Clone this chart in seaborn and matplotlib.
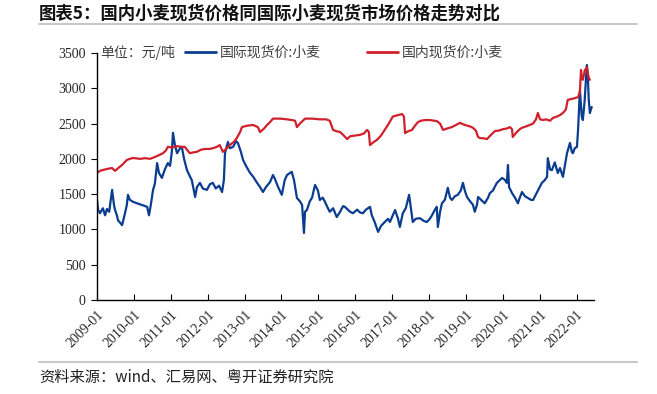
import seaborn as sns
import matplotlib.pyplot as plt
import matplotlib.lines as mlines
import pandas as pd

# 国际现货价:小麦 (元/吨), x in decimal years
intl_year = [2009.00, 2009.03, 2009.08, 2009.16, 2009.22, 2009.27, 2009.33, 2009.41, 2009.46, 2009.49,
             2009.54, 2009.57, 2009.62, 2009.68, 2009.70, 2009.76, 2009.81, 2009.84, 2009.89, 2009.98,
             2010.36, 2010.41, 2010.46, 2010.52, 2010.57, 2010.63, 2010.68, 2010.76, 2010.84, 2010.92,
             2010.98, 2011.03, 2011.06, 2011.11, 2011.17, 2011.25, 2011.30, 2011.36, 2011.44, 2011.52,
             2011.57, 2011.66, 2011.71, 2011.79, 2011.87, 2011.98, 2012.06, 2012.14, 2012.22, 2012.31,
             2012.39, 2012.44, 2012.47, 2012.55, 2012.60, 2012.69, 2012.77, 2012.82, 2012.90, 2012.96,
             2013.04, 2013.15, 2013.23, 2013.34, 2013.42, 2013.50, 2013.58, 2013.69, 2013.77, 2013.82,
             2013.91, 2014.01, 2014.09, 2014.15, 2014.23, 2014.28, 2014.34, 2014.42, 2014.50, 2014.56,
             2014.61, 2014.64, 2014.69, 2014.77, 2014.83, 2014.91, 2014.99, 2015.04, 2015.12, 2015.18,
             2015.26, 2015.31, 2015.40, 2015.50, 2015.59, 2015.67, 2015.72, 2015.80, 2015.86, 2015.94,
             2016.05, 2016.13, 2016.21, 2016.29, 2016.40, 2016.45, 2016.53, 2016.62, 2016.70, 2016.80,
             2016.89, 2016.94, 2017.02, 2017.08, 2017.16, 2017.21, 2017.29, 2017.37, 2017.46, 2017.51,
             2017.56, 2017.64, 2017.75, 2017.86, 2017.94, 2018.02, 2018.08, 2018.16, 2018.21, 2018.24,
             2018.30, 2018.35, 2018.43, 2018.51, 2018.57, 2018.62, 2018.70, 2018.78, 2018.86, 2018.92,
             2018.97, 2019.03, 2019.11, 2019.19, 2019.24, 2019.30, 2019.33, 2019.41, 2019.51, 2019.60,
             2019.65, 2019.73, 2019.84, 2019.92, 2019.98, 2020.06, 2020.11, 2020.14, 2020.17, 2020.25,
             2020.33, 2020.41, 2020.46, 2020.52, 2020.60, 2020.68, 2020.76, 2020.82, 2021.06, 2021.14,
             2021.20, 2021.22, 2021.28, 2021.33, 2021.41, 2021.49, 2021.55, 2021.63, 2021.68, 2021.74,
             2021.82, 2021.87, 2021.90, 2021.95, 2022.01, 2022.04, 2022.09, 2022.14, 2022.17, 2022.22,
             2022.25, 2022.28, 2022.31, 2022.33, 2022.36, 2022.39, 2022.41]
intl_price = [1420, 1280, 1230, 1300, 1200, 1290, 1250, 1560, 1350, 1275,
              1200, 1130, 1100, 1060, 1100, 1230, 1350, 1490, 1420, 1390,
              1320, 1200, 1350, 1560, 1650, 1940, 1800, 1730, 1850, 1940,
              1900, 2100, 2370, 2200, 2080, 2150, 2170, 2000, 1840, 1750,
              1700, 1460, 1600, 1660, 1580, 1560, 1640, 1660, 1580, 1620,
              1530, 1700, 2080, 2240, 2150, 2170, 2250, 2225, 2100, 1985,
              1900, 1800, 1750, 1660, 1600, 1530, 1600, 1670, 1770, 1720,
              1600, 1490, 1700, 1770, 1800, 1815, 1700, 1445, 1400, 1345,
              950, 1250, 1275, 1400, 1450, 1630, 1550, 1417, 1450, 1390,
              1300, 1250, 1300, 1175, 1250, 1330, 1320, 1280, 1250, 1230,
              1280, 1240, 1230, 1280, 1320, 1200, 1100, 965, 1050, 1105,
              1150, 1105, 1200, 1275, 1150, 1035, 1230, 1300, 1490, 1300,
              1105, 1150, 1160, 1120, 1105, 1150, 1200, 1280, 1320, 1035,
              1250, 1370, 1420, 1590, 1450, 1417, 1470, 1490, 1550, 1660,
              1550, 1460, 1400, 1350, 1250, 1350, 1460, 1420, 1370, 1450,
              1515, 1550, 1660, 1700, 1730, 1700, 1660, 1913, 1600, 1515,
              1450, 1370, 1450, 1530, 1470, 1445, 1420, 1417, 1660, 1700,
              1745, 2010, 1850, 1840, 1950, 1800, 1870, 1745, 1900, 2080,
              2225, 2100, 2080, 2150, 2170, 2410, 2975, 2600, 2550, 2835,
              3100, 3330, 3100, 2835, 2650, 2700, 2735]

# 国内现货价:小麦 (元/吨)
dom_year = [2009.00, 2009.08, 2009.16, 2009.30, 2009.41, 2009.49, 2009.60, 2009.68, 2009.81, 2009.89,
            2009.98, 2010.17, 2010.30, 2010.44, 2010.54, 2010.63, 2010.71, 2010.79, 2010.87, 2010.92,
            2011.03, 2011.17, 2011.30, 2011.38, 2011.47, 2011.52, 2011.60, 2011.71, 2011.82, 2011.93,
            2012.04, 2012.14, 2012.25, 2012.33, 2012.41, 2012.50, 2012.60, 2012.71, 2012.79, 2012.88,
            2012.93, 2013.07, 2013.23, 2013.36, 2013.42, 2013.53, 2013.61, 2013.69, 2013.77, 2013.96,
            2014.15, 2014.28, 2014.37, 2014.42, 2014.50, 2014.64, 2014.83, 2015.04, 2015.21, 2015.31,
            2015.40, 2015.50, 2015.59, 2015.69, 2015.78, 2015.86, 2015.99, 2016.13, 2016.24, 2016.32,
            2016.37, 2016.40, 2016.48, 2016.59, 2016.70, 2016.80, 2016.91, 2017.02, 2017.16, 2017.27,
            2017.32, 2017.35, 2017.43, 2017.54, 2017.62, 2017.70, 2017.78, 2017.89, 2018.02, 2018.21,
            2018.30, 2018.38, 2018.49, 2018.62, 2018.73, 2018.84, 2018.97, 2019.11, 2019.19, 2019.27,
            2019.33, 2019.38, 2019.49, 2019.57, 2019.68, 2019.79, 2019.89, 2020.00, 2020.11, 2020.19,
            2020.25, 2020.27, 2020.38, 2020.46, 2020.52, 2020.63, 2020.73, 2020.82, 2020.90, 2020.95,
            2021.01, 2021.09, 2021.17, 2021.28, 2021.36, 2021.47, 2021.55, 2021.63, 2021.71, 2021.76,
            2021.87, 2021.95, 2022.04, 2022.09, 2022.12, 2022.14, 2022.17, 2022.22, 2022.28, 2022.31,
            2022.33, 2022.36]
dom_price = [1800, 1830, 1842, 1860, 1870, 1830, 1880, 1913, 1984, 2000,
             2012, 2000, 2010, 2000, 2020, 2040, 2060, 2080, 2120, 2170,
             2160, 2180, 2170, 2170, 2110, 2080, 2090, 2100, 2130, 2140,
             2140, 2150, 2170, 2195, 2100, 2140, 2195, 2240, 2295, 2380,
             2450, 2470, 2480, 2450, 2380, 2430, 2480, 2520, 2570, 2570,
             2560, 2550, 2540, 2450, 2500, 2570, 2570, 2560, 2560, 2540,
             2410, 2390, 2380, 2330, 2280, 2320, 2330, 2340, 2360, 2410,
             2380, 2195, 2230, 2270, 2330, 2410, 2500, 2600, 2620, 2635,
             2600, 2365, 2390, 2410, 2470, 2520, 2540, 2550, 2550, 2535,
             2500, 2410, 2430, 2450, 2480, 2510, 2480, 2460, 2440, 2400,
             2310, 2295, 2290, 2280, 2340, 2395, 2400, 2420, 2430, 2450,
             2420, 2310, 2380, 2420, 2440, 2460, 2480, 2500, 2560, 2650,
             2560, 2550, 2560, 2540, 2580, 2600, 2620, 2650, 2700, 2835,
             2850, 2860, 2875, 2950, 3260, 3150, 3120, 3250, 3300, 3200,
             3150, 3120]

tick_years = list(range(2009, 2023))
tick_labels = [f'{y}-01' for y in tick_years]

df_intl = pd.DataFrame({'year': intl_year, 'price': intl_price})
df_dom = pd.DataFrame({'year': dom_year, 'price': dom_price})

sns.set_style('white')
plt.rcParams['font.family'] = ['Liberation Serif', 'Noto Sans CJK SC', 'DejaVu Sans']

blue = '#0A3D8F'
red = '#D0202C'

fig = plt.figure(figsize=(6.57, 3.94), dpi=100)
ax = fig.add_axes([0.1476, 0.2386, 0.7564, 0.6269])

sns.lineplot(data=df_intl, x='year', y='price', color=blue, linewidth=1.6, ax=ax)
sns.lineplot(data=df_dom, x='year', y='price', color=red, linewidth=1.6, ax=ax)

ax.set_xlim(2009.0, 2022.47)
ax.set_ylim(0, 3500)
ax.set_yticks(range(0, 3501, 500))
ax.set_xticks(tick_years)
ax.set_xticklabels(tick_labels, rotation=45, ha='right', rotation_mode='anchor')
ax.set_xlabel('')
ax.set_ylabel('')

for s in ['top', 'right']:
    ax.spines[s].set_visible(False)
for s in ['left', 'bottom']:
    ax.spines[s].set_color('black')
    ax.spines[s].set_linewidth(1.0)
ax.tick_params(axis='x', direction='in', length=4, width=0.8, color='black', labelsize=10, pad=6)
ax.tick_params(axis='y', direction='out', length=4, width=0.8, color='black', labelsize=10, pad=4, left=True)
ax.tick_params(axis='x', bottom=True)

ax.text(0.006, 1.0, '单位：元/吨', transform=ax.transAxes, fontsize=10, color='#404040',
        va='center', ha='left', family=['Noto Sans CJK SC'])

handles = [mlines.Line2D([], [], color=blue, linewidth=2),
           mlines.Line2D([], [], color=red, linewidth=2)]
ax.legend(handles, ['国际现货价:小麦', '国内现货价:小麦'], ncol=2, frameon=False,
          loc='upper left', bbox_to_anchor=(0.178, 1.03), borderaxespad=0, borderpad=0,
          handlelength=2.2, handletextpad=0.3, columnspacing=3.3,
          prop={'family': ['Noto Sans CJK SC'], 'size': 10}, labelcolor='#404040')

fig.text(39 / 657, 1 - 14 / 394, '图表5：国内小麦现货价格同国际小麦现货市场价格走势对比',
         fontsize=12.5, fontweight='bold', va='center', ha='left',
         family=['Noto Sans CJK SC'], color='#111111')
fig.add_artist(mlines.Line2D([39 / 657, 637 / 657], [1 - 24 / 394, 1 - 24 / 394],
                             color='#c8c8c8', linewidth=1.5))
fig.add_artist(mlines.Line2D([39 / 657, 637 / 657], [1 - 362 / 394, 1 - 362 / 394],
                             color='#c8c8c8', linewidth=1.5))
fig.text(39 / 657, 1 - 377 / 394, '资料来源：wind、汇易网、粤开证券研究院',
         fontsize=11, style='italic', va='center', ha='left',
         family=['Noto Sans CJK SC'], color='#222222')

fig.savefig('out.png', dpi=100)
